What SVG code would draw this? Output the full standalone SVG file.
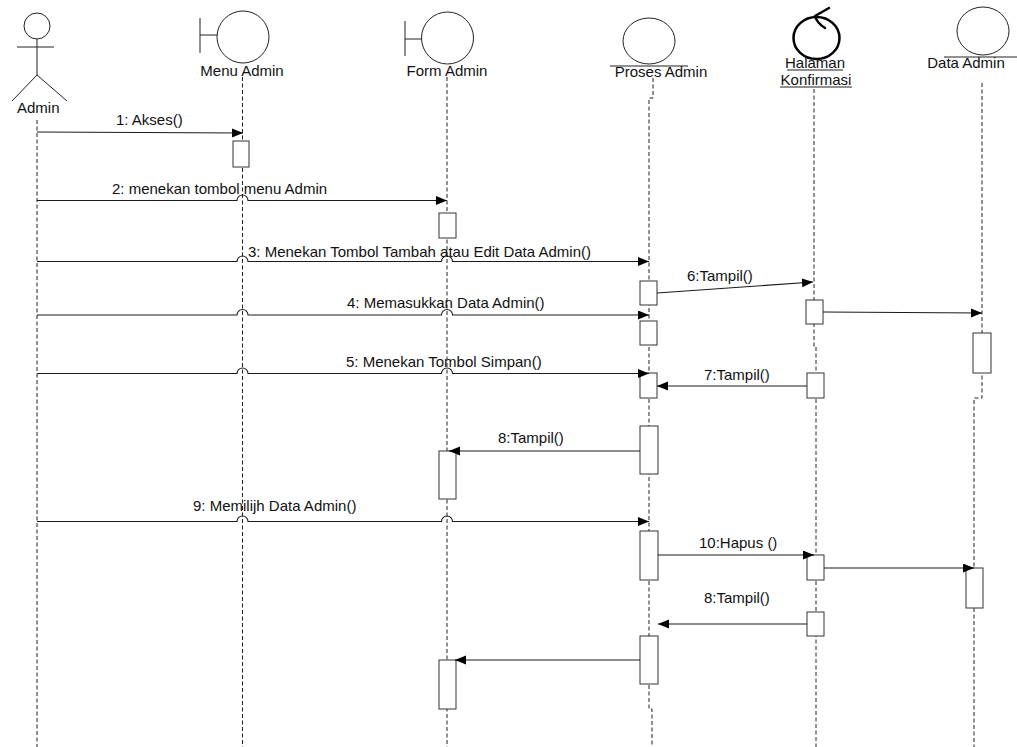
<svg xmlns="http://www.w3.org/2000/svg" width="1017" height="747" viewBox="0 0 1017 747">
<style>
  text { font-family: "Liberation Sans", Arial, sans-serif; font-size: 15px; fill: #111; }
  .mid { text-anchor: middle; }
  .life { fill: none; stroke: #222; stroke-width: 1; stroke-dasharray: 4 2.5; }
  .shape { fill: #fff; stroke: #222; stroke-width: 1; }
  .ln { fill: none; stroke: #222; stroke-width: 1; }
  .act { fill: #fff; stroke: #333; stroke-width: 1; }
  .msg { fill: none; stroke: #1a1a1a; stroke-width: 1.1; marker-end: url(#arr); }
</style>
<defs>
  <marker id="arr" markerUnits="userSpaceOnUse" markerWidth="12" markerHeight="10" refX="11" refY="4.5" orient="auto">
    <path d="M0,0 L11,4.5 L0,9 z" fill="#000"/>
  </marker>
</defs>
<rect width="1017" height="747" fill="#fff"/>

<g id="admin">
  <path class="life" d="M37 120 V747"/>
  <circle class="shape" cx="37" cy="26" r="13"/>
  <path class="ln" d="M37 39 V75 M17 47 H54 M12 101 L37 75 L67 101"/>
  <text x="17" y="113">Admin</text>
</g>

<g id="menu-admin">
  <path class="life" d="M242.5 77 V747"/>
  <path class="ln" d="M200 18 V53 M200 35 H217"/>
  <circle class="shape" cx="243" cy="37" r="26"/>
  <text class="mid" x="242" y="76">Menu Admin</text>
  <rect class="act" x="233" y="141" width="16" height="26"/>
</g>

<g id="form-admin">
  <path class="life" d="M447 77 V747"/>
  <path class="ln" d="M405 21 V56 M405 39 H422"/>
  <circle class="shape" cx="447.5" cy="38" r="26"/>
  <text class="mid" x="447" y="76">Form Admin</text>
  <rect class="act" x="439" y="213" width="17" height="25"/>
  <rect class="act" x="439" y="451" width="17" height="48"/>
  <rect class="act" x="439" y="660" width="17" height="49"/>
</g>

<g id="proses-admin">
  <path class="life" d="M653 78 V98 H649 V709 H652 V747"/>
  <ellipse class="shape" cx="649" cy="41" rx="26" ry="23"/>
  <path class="ln" d="M610 66 H688"/>
  <text class="mid" x="661" y="77">Proses Admin</text>
  <rect class="act" x="640" y="281" width="17" height="24"/>
  <rect class="act" x="640" y="321" width="17" height="24"/>
  <rect class="act" x="640" y="373" width="17" height="25"/>
  <rect class="act" x="640" y="426" width="18" height="48"/>
  <rect class="act" x="640" y="531" width="18" height="49"/>
  <rect class="act" x="640" y="636" width="18" height="48"/>
</g>

<g id="halaman-konfirmasi">
  <path class="life" d="M814 89 V347 H816 V747"/>
  <text class="mid" x="815" y="68">Halaman</text>
  <path class="ln" d="M787 70 H843 M780 87 H852"/>
  <text class="mid" x="816" y="85">Konfirmasi</text>
  <ellipse cx="816.5" cy="38" rx="23" ry="21" fill="#fff" stroke="#000" stroke-width="2.5"/>
  <path d="M829 8 L815 16 Q817 23 825 28" fill="none" stroke="#000" stroke-width="2.5" stroke-linecap="round" stroke-linejoin="round"/>
  <rect class="act" x="806" y="300" width="17" height="24"/>
  <rect class="act" x="807" y="373" width="17" height="25"/>
  <rect class="act" x="807" y="555" width="17" height="25"/>
  <rect class="act" x="807" y="612" width="17" height="24"/>
</g>

<g id="data-admin">
  <path class="life" d="M982 83 V398 H974 V747"/>
  <ellipse class="shape" cx="983" cy="31" rx="26" ry="24"/>
  <path class="ln" d="M944 57 H1017"/>
  <text class="mid" x="966" y="68">Data Admin</text>
  <rect class="act" x="973" y="333" width="18" height="40"/>
  <rect class="act" x="966" y="568" width="17" height="40"/>
</g>

<g id="connectors">
  <path class="msg" d="M37 132 L243 133"/>
  <text x="116" y="125">1: Akses()</text>

  <path class="msg" d="M37 200.5 H237 A5.5 5.5 0 0 1 248 200.5 H447"/>
  <text x="112" y="194">2: menekan tombol menu Admin</text>

  <path class="msg" d="M37 261.5 H237 A5.5 5.5 0 0 1 248 261.5 H441.5 A5.5 5.5 0 0 1 452.5 261.5 H649"/>
  <text x="248" y="257">3: Menekan Tombol Tambah atau Edit Data Admin()</text>

  <path class="msg" d="M37 315 H237 A5.5 5.5 0 0 1 248 315 H441.5 A5.5 5.5 0 0 1 452.5 315 H649"/>
  <text x="347" y="308">4: Memasukkan Data Admin()</text>

  <path class="msg" d="M37 373.5 H237 A5.5 5.5 0 0 1 248 373.5 H441.5 A5.5 5.5 0 0 1 452.5 373.5 H649"/>
  <text x="346" y="367">5: Menekan Tombol Simpan()</text>

  <path class="msg" d="M657 293 L813 282"/>
  <text x="687" y="281">6:Tampil()</text>

  <path class="msg" d="M823 312 L982 313"/>

  <path class="msg" d="M807 386 H657"/>
  <text x="704" y="380">7:Tampil()</text>

  <path class="msg" d="M640 451 H449"/>
  <text x="498" y="443">8:Tampil()</text>

  <path class="msg" d="M37 521.5 H237 A5.5 5.5 0 0 1 248 521.5 H441.5 A5.5 5.5 0 0 1 452.5 521.5 H649"/>
  <text x="193" y="511">9: Memilijh Data Admin()</text>

  <path class="msg" d="M658 555 H814"/>
  <text x="699" y="548">10:Hapus ()</text>

  <path class="msg" d="M824 568 H974"/>

  <path class="msg" d="M807 624 H658"/>
  <text x="704" y="603">8:Tampil()</text>

  <path class="msg" d="M640 660 H455"/>
</g>
</svg>
